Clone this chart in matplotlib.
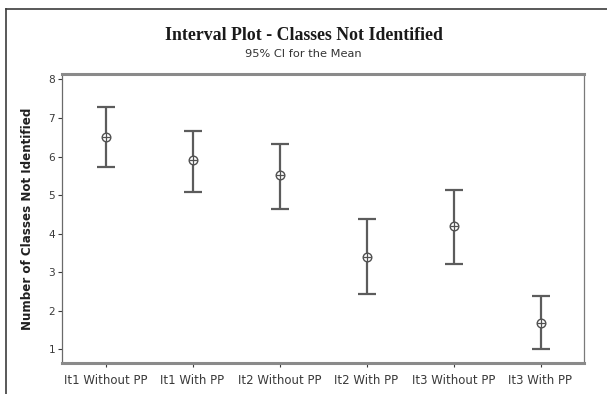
import matplotlib
matplotlib.use("Agg")
import matplotlib.pyplot as plt
from matplotlib.lines import Line2D

# Group labels and 95% confidence intervals for the mean
groups = ["It1 Without PP", "It1 With PP", "It2 Without PP",
          "It2 With PP", "It3 Without PP", "It3 With PP"]
means = [6.50, 5.91, 5.52, 3.39, 4.20, 1.67]
upper = [7.29, 6.67, 6.32, 4.37, 5.13, 2.38]
lower = [5.74, 5.09, 4.65, 2.43, 3.22, 1.00]
yticks = [1, 2, 3, 4, 5, 6, 7, 8]

W, H = 607, 394
fig = plt.figure(figsize=(W / 100, H / 100), dpi=100)
fig.patch.set_facecolor("white")

ax = fig.add_axes([62 / W, 1 - 363 / H, (584 - 62) / W, (363 - 74) / H])

x = list(range(len(groups)))
err_lo = [m - l for m, l in zip(means, lower)]
err_hi = [u - m for m, u in zip(means, upper)]
bar_col = "#5c5c5c"
ax.errorbar(x, means, yerr=[err_lo, err_hi], fmt="none", ecolor=bar_col,
            elinewidth=1.6, capsize=6.2, capthick=1.6, zorder=2)
# circle-with-cross markers at the means
ax.plot(x, means, linestyle="none", marker="o", markersize=6.2,
        markerfacecolor="white", markeredgecolor="#505050",
        markeredgewidth=1.0, zorder=3)
ax.plot(x, means, linestyle="none", marker="+", markersize=6.0,
        markeredgecolor="#505050", markeredgewidth=0.9, zorder=4)

ax.set_xlim(-0.5, 5.5)
ax.set_ylim(0.645, 8.14)
ax.set_xticks(x)
ax.set_xticklabels(groups)
ax.set_yticks(yticks)

tick_col = "#3a3a3a"
ax.tick_params(axis="both", colors=tick_col, direction="out",
               length=3, width=0.8, pad=2)
ax.tick_params(axis="x", labelsize=8.5, pad=5)
ax.tick_params(axis="y", labelsize=7.6)

for side in ("top", "bottom"):
    ax.spines[side].set_color("#8a8a8a")
    ax.spines[side].set_linewidth(2.2)
ax.spines["left"].set_color("#6a6a6a")
ax.spines["left"].set_linewidth(0.9)
ax.spines["right"].set_color("#7a7a7a")
ax.spines["right"].set_linewidth(0.9)

ax.set_ylabel("Number of Classes Not Identified", fontsize=8.6,
              fontweight="bold", color="#202020", labelpad=10)

fig.text(0.5, 1 - 35 / H, "Interval Plot - Classes Not Identified",
         ha="center", va="center", fontsize=12.8, fontweight="bold",
         family="Liberation Serif", color="#1a1a1a")
fig.text(0.5, 1 - 54 / H, "95% CI for the Mean", ha="center", va="center",
         fontsize=8.2, color="#333333")

# outer frame (left and top edges)
frame_col = "#3c3c3c"
fig.add_artist(Line2D([6 / W, 6 / W], [0, 1 - 9 / H], transform=fig.transFigure,
                      color=frame_col, linewidth=1.2))
fig.add_artist(Line2D([6 / W, 1], [1 - 9 / H, 1 - 9 / H], transform=fig.transFigure,
                      color=frame_col, linewidth=1.2))

fig.savefig("out.png", dpi=100)
